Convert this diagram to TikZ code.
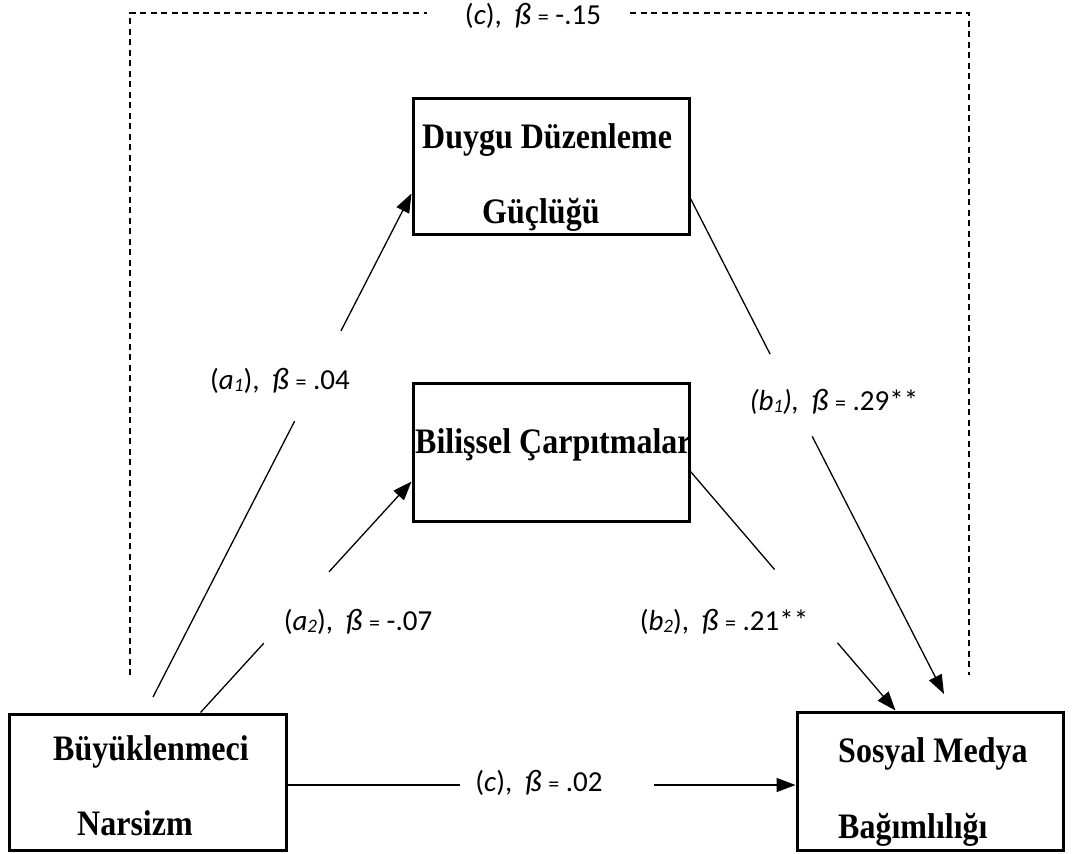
\documentclass[tikz,border=0pt]{standalone}
\usepackage{fontspec}
\setmainfont{Liberation Serif}
\newfontfamily\labfont{Carlito}
\usetikzlibrary{arrows.meta,calc}
\newcommand\betaS{{\fontsize{31}{32}\selectfont\itshape ß}}
\newcommand\eqS{{\fontsize{22}{24}\selectfont =}}
\newcommand\subS[1]{\raisebox{-2pt}{\fontsize{19}{20}\selectfont\itshape #1}}
\newcommand\tallS[1]{\scalebox{1}[1.12]{#1}}
\begin{document}
\begin{tikzpicture}[x=1pt,y=-1pt,
  box/.style={draw, line width=3pt, inner sep=0pt},
  btext/.style={inner sep=0pt, anchor=base west, font=\fontsize{32}{36}\selectfont\bfseries},
  lab/.style={inner sep=0pt, font=\labfont\fontsize{29}{32}\selectfont},
  conn/.style={line width=1.3pt},
  arr/.style={line width=1.3pt, -{Triangle[length=19pt,width=14pt]}},
  dashline/.style={line width=1.6pt, dash pattern=on 6pt off 4.5pt}]
\fill[white] (0,0) rectangle (1074,854);
\useasboundingbox (0,0) rectangle (1074,854);
% boxes
\node[box, minimum width=276pt, minimum height=136pt] (ddg) at (551,166) {};
\node[box, minimum width=276pt, minimum height=138pt] (bc) at (551,452) {};
\node[box, minimum width=277pt, minimum height=136pt] (bn) at (147.5,782) {};
\node[box, minimum width=266pt, minimum height=138pt] (smb) at (930,781) {};
% box texts
\node[btext] (ddg1) at (422,148) {\tallS{Duygu Düzenleme}};
\node[btext] (ddg2) at (482,223) {\tallS{Güçlüğü}};
\node[btext] (bc1) at (415,453) {\tallS{Bilişsel Çarpıtmalar}};
\node[btext] (bn1) at (53,760) {\tallS{Büyüklenmeci}};
\node[btext] (bn2) at (77,835) {\tallS{Narsizm}};
\node[btext] (smb1) at (838,762) {\tallS{Sosyal Medya}};
\node[btext] (smb2) at (838,838) {\tallS{Bağımlılığı}};
% connector end points
\coordinate (a1s) at (153,697);
\coordinate (a1t) at ($(ddg.north west)+(0,97)$);
\coordinate (a2s) at ($(bn.north west)+(193,0)$);
\coordinate (a2t) at ($(bc.north west)+(0,100)$);
\coordinate (b1s) at ($(ddg.north east)+(0,102)$);
\coordinate (b1t) at (944,694);
\coordinate (b2s) at ($(bc.north east)+(0,90)$);
\coordinate (b2t) at ($(smb.north west)+(100,0)$);
\coordinate (cs) at ($(bn.east)+(0,3)$);
\coordinate (ct) at (smb.west |- cs);
\coordinate (d1) at (130,675);
\coordinate (d2) at (427,13);
\coordinate (d3) at (630,13);
\coordinate (d4) at (969,675);
% connectors
\draw[conn] (a1s) -- ($(a1s)!0.548!(a1t)$);
\draw[arr] ($(a1s)!0.727!(a1t)$) -- (a1t);
\draw[conn] (a2s) -- ($(a2s)!0.30!(a2t)$);
\draw[arr] ($(a2s)!0.609!(a2t)$) -- (a2t);
\draw[conn] (b1s) -- ($(b1s)!0.314!(b1t)$);
\draw[arr] ($(b1s)!0.48!(b1t)$) -- (b1t);
\draw[conn] (b2s) -- ($(b2s)!0.41!(b2t)$);
\draw[arr] ($(b2s)!0.717!(b2t)$) -- (b2t);
\draw[conn] (cs) -- ($(cs)!0.339!(ct)$);
\draw[arr] ($(cs)!0.722!(ct)$) -- (ct);
\draw[dashline] (d1) |- (d2);
\draw[dashline] (d3) -| (d4);
% labels
\node[lab] (lcp) at (533,16) {(\textit{c}),\ \ \betaS\ \eqS\ -.15};
\node[lab] (la1) at (280,381) {(\textit{a}\subS{1}),\ \ \betaS\ \eqS\ .04};
\node[lab] (la2) at (358,622) {(\textit{a}\subS{2}),\ \ \betaS\ \eqS\ -.07};
\node[lab] (lb1) at (834,402) {\textit{(b\subS{1}),}\ \ \betaS\ \eqS\ .29**};
\node[lab] (lb2) at (724,622) {(\textit{b}\subS{2}),\ \ \betaS\ \eqS\ .21**};
\node[lab] (lc) at (539,783) {(\textit{c}),\ \ \betaS\ \eqS\ .02};
\end{tikzpicture}
\end{document}
